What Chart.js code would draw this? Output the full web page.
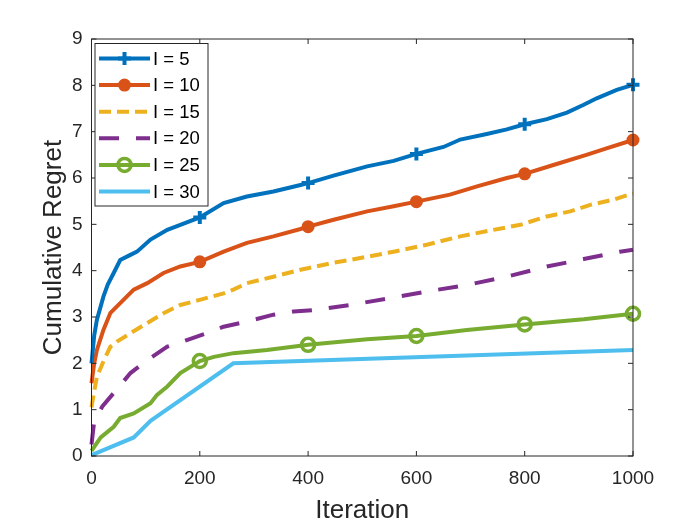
<!DOCTYPE html>
<html lang="en">
<head>
  <meta charset="UTF-8" />
  <title>Cumulative Regret</title>
  <script src="https://cdn.jsdelivr.net/npm/chart.js"></script>
  <style>
    body {
      margin: 0;
      background: #fff;
    }
    canvas {
      display: block;
    }
  </style>
</head>
<body>
  <canvas id="regretChart" width="700" height="525"></canvas>

  <script>
    // values
    const iterL5 = [0, 5, 10, 22, 30, 41, 53, 70, 84, 109, 140, 164, 200, 244, 287, 336, 386, 400, 447, 509, 558, 600, 650, 681, 730, 767, 800, 841, 878, 909, 933, 970, 1000];
    const regretL5 = [2.0, 2.6, 2.94, 3.44, 3.7, 3.95, 4.23, 4.33, 4.41, 4.67, 4.88, 4.99, 5.15, 5.46, 5.6, 5.71, 5.85, 5.89, 6.05, 6.25, 6.37, 6.52, 6.67, 6.83, 6.95, 7.05, 7.16, 7.27, 7.41, 7.58, 7.72, 7.9, 8.01];

    const iterL10 = [0, 5, 10, 22, 35, 53, 78, 103, 133, 164, 200, 244, 287, 336, 386, 400, 447, 509, 558, 600, 662, 712, 767, 800, 853, 914, 951, 1000];
    const regretL10 = [1.57, 2.0, 2.29, 2.72, 3.09, 3.3, 3.59, 3.73, 3.95, 4.09, 4.19, 4.41, 4.6, 4.74, 4.9, 4.95, 5.1, 5.28, 5.39, 5.49, 5.64, 5.82, 6.0, 6.09, 6.28, 6.5, 6.64, 6.82];

    const iterL15 = [0, 5, 10, 23, 35, 47, 72, 103, 133, 164, 200, 244, 262, 287, 336, 386, 447, 509, 558, 619, 681, 742, 792, 841, 884, 921, 963, 1000];
    const regretL15 = [1.05, 1.4, 1.71, 2.07, 2.36, 2.47, 2.65, 2.87, 3.08, 3.26, 3.37, 3.51, 3.59, 3.73, 3.87, 4.02, 4.17, 4.3, 4.41, 4.56, 4.74, 4.88, 4.99, 5.17, 5.28, 5.42, 5.53, 5.67];

    const iterL20 = [0, 5, 20, 44, 72, 103, 140, 176, 213, 244, 287, 336, 373, 410, 478, 552, 619, 693, 767, 841, 909, 976, 1000];
    const regretL20 = [0.25, 0.75, 1.07, 1.4, 1.79, 2.07, 2.36, 2.5, 2.65, 2.79, 2.9, 3.05, 3.12, 3.15, 3.26, 3.41, 3.55, 3.69, 3.87, 4.09, 4.25, 4.41, 4.45];

    const iterL25 = [0, 17, 41, 53, 78, 109, 121, 140, 164, 200, 226, 262, 324, 386, 400, 509, 600, 693, 800, 909, 1000];
    const regretL25 = [0.11, 0.4, 0.63, 0.82, 0.92, 1.14, 1.32, 1.5, 1.79, 2.05, 2.14, 2.22, 2.29, 2.38, 2.4, 2.52, 2.59, 2.72, 2.84, 2.95, 3.07];

    const iterL30 = [0, 78, 109, 262, 1000];
    const regretL30 = [0.02, 0.4, 0.76, 2.0, 2.29];

    const seriesLabels = ['I = 5', 'I = 10', 'I = 15', 'I = 20', 'I = 25', 'I = 30'];
    const xTicks = [0, 200, 400, 600, 800, 1000];
    const yTicks = [0, 1, 2, 3, 4, 5, 6, 7, 8, 9];

    const colors = ['#0072BD', '#D95319', '#EDB120', '#7E2F8E', '#77AC30', '#4DBEEE'];
    const axisColor = '#262626';
    const fontFamily = '"Liberation Sans", Arial, sans-serif';

    function toPoints(xs, ys) {
      return xs.map((x, i) => ({ x: x, y: ys[i] }));
    }

    // markers only every 200 iterations
    function markerAt(r) {
      return ctx => (ctx.raw && ctx.raw.x > 0 && ctx.raw.x % 200 === 0) ? r : 0;
    }

    const datasets = [
      {
        label: seriesLabels[0], data: toPoints(iterL5, regretL5),
        borderColor: colors[0], backgroundColor: colors[0],
        pointStyle: 'cross', pointRadius: markerAt(6.5), pointBorderWidth: 4
      },
      {
        label: seriesLabels[1], data: toPoints(iterL10, regretL10),
        borderColor: colors[1], backgroundColor: colors[1],
        pointStyle: 'circle', pointRadius: markerAt(5.5), pointBorderWidth: 2
      },
      {
        label: seriesLabels[2], data: toPoints(iterL15, regretL15),
        borderColor: colors[2], backgroundColor: colors[2],
        borderDash: [12, 6], pointRadius: 0
      },
      {
        label: seriesLabels[3], data: toPoints(iterL20, regretL20),
        borderColor: colors[3], backgroundColor: colors[3],
        borderDash: [20, 17], pointRadius: 0
      },
      {
        label: seriesLabels[4], data: toPoints(iterL25, regretL25),
        borderColor: colors[4], backgroundColor: 'rgba(0,0,0,0)',
        pointStyle: 'circle', pointRadius: markerAt(6.5), pointBorderWidth: 3.5
      },
      {
        label: seriesLabels[5], data: toPoints(iterL30, regretL30),
        borderColor: colors[5], backgroundColor: colors[5],
        pointRadius: 0
      }
    ];

    datasets.forEach(ds => {
      ds.borderWidth = 4;
      ds.tension = 0;
      ds.fill = false;
      ds.clip = false;
      ds.pointBorderColor = ds.borderColor;
      ds.pointBackgroundColor = ds.backgroundColor;
    });

    // box, inward ticks and the legend, MATLAB style
    const matlabFrame = {
      id: 'matlabFrame',
      afterDatasetsDraw(chart) {
        const ctx = chart.ctx;
        const a = chart.chartArea;
        const xs = chart.scales.x;
        const ys = chart.scales.y;
        const tl = 5;

        ctx.save();
        ctx.strokeStyle = axisColor;
        ctx.lineWidth = 1;
        ctx.strokeRect(a.left, a.top, a.right - a.left, a.bottom - a.top);

        ctx.beginPath();
        xTicks.forEach(v => {
          const px = xs.getPixelForValue(v);
          ctx.moveTo(px, a.bottom); ctx.lineTo(px, a.bottom - tl);
          ctx.moveTo(px, a.top); ctx.lineTo(px, a.top + tl);
        });
        yTicks.forEach(v => {
          const py = ys.getPixelForValue(v);
          ctx.moveTo(a.left, py); ctx.lineTo(a.left + tl, py);
          ctx.moveTo(a.right, py); ctx.lineTo(a.right - tl, py);
        });
        ctx.stroke();

        // legend
        const boxL = a.left + 3.5, boxT = a.top + 4.5, boxW = 113, boxH = 162.5;
        ctx.fillStyle = '#fff';
        ctx.fillRect(boxL, boxT, boxW, boxH);
        ctx.strokeRect(boxL, boxT, boxW, boxH);

        ctx.font = '18.5px ' + fontFamily;
        ctx.textBaseline = 'middle';
        ctx.textAlign = 'left';

        datasets.forEach((ds, i) => {
          const cy = boxT + 15 + i * 26.6;
          const x0 = boxL + 4, x1 = boxL + 55;
          ctx.save();
          ctx.strokeStyle = ds.borderColor;
          ctx.lineWidth = ds.borderWidth;
          ctx.setLineDash(ds.borderDash || []);
          ctx.beginPath();
          ctx.moveTo(x0, cy);
          ctx.lineTo(x1, cy);
          ctx.stroke();
          ctx.restore();

          if (typeof ds.pointRadius === 'function') {
            ctx.save();
            ctx.fillStyle = ds.pointBackgroundColor;
            ctx.strokeStyle = ds.pointBorderColor;
            ctx.lineWidth = ds.pointBorderWidth;
            Chart.helpers.drawPoint(ctx, {
              pointStyle: ds.pointStyle,
              radius: ds.pointRadius({ raw: { x: 200 } }),
              borderWidth: ds.pointBorderWidth,
              rotation: 0
            }, (x0 + x1) / 2, cy);
            ctx.restore();
          }

          ctx.fillStyle = '#000';
          ctx.fillText(ds.label, x1 + 3, cy + 1);
        });
        ctx.restore();
      }
    };

    const ctx = document.getElementById('regretChart').getContext('2d');

    new Chart(ctx, {
      type: 'line',
      data: { datasets: datasets },
      options: {
        responsive: false,
        animation: false,
        events: [],
        layout: {
          padding: { left: 0, right: 67, top: 39, bottom: 0 }
        },
        plugins: {
          legend: { display: false },
          tooltip: { enabled: false }
        },
        scales: {
          x: {
            type: 'linear',
            min: 0,
            max: 1000,
            afterFit: scale => { scale.height = 69; },
            afterBuildTicks: scale => { scale.ticks = xTicks.map(v => ({ value: v })); },
            grid: { display: false, drawTicks: false },
            border: { display: false },
            ticks: {
              color: axisColor,
              padding: 11,
              maxRotation: 0,
              callback: v => String(v),
              font: { family: fontFamily, size: 19 }
            },
            title: {
              display: true,
              text: 'Iteration',
              color: axisColor,
              padding: { top: 0, bottom: 1 },
              font: { family: fontFamily, size: 26, lineHeight: 1 }
            }
          },
          y: {
            type: 'linear',
            min: 0,
            max: 9,
            afterFit: scale => { scale.width = 91.5; },
            afterBuildTicks: scale => { scale.ticks = yTicks.map(v => ({ value: v })); },
            grid: { display: false, drawTicks: false },
            border: { display: false },
            ticks: {
              color: axisColor,
              padding: 9,
              callback: v => String(v),
              font: { family: fontFamily, size: 19 }
            },
            title: {
              display: true,
              text: 'Cumulative Regret',
              color: axisColor,
              padding: { top: 41, bottom: 0 },
              font: { family: fontFamily, size: 26, lineHeight: 1 }
            }
          }
        }
      },
      plugins: [matlabFrame]
    });
  </script>
</body>
</html>
